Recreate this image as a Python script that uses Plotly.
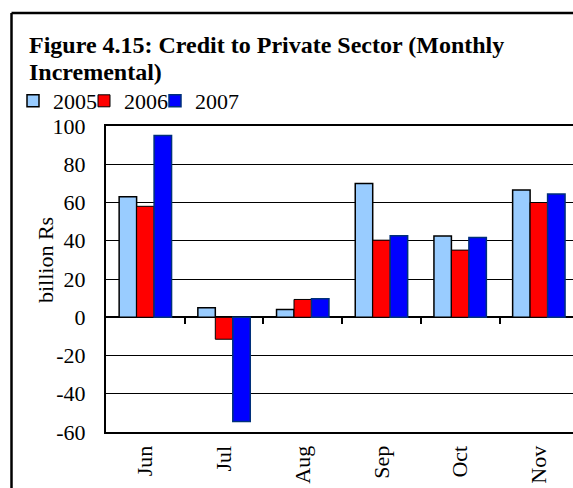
import plotly.graph_objects as go

months = ["Jun", "Jul", "Aug", "Sep", "Oct", "Nov"]
years = ["2005", "2006", "2007"]
v2005 = [63, 5, 4, 70, 42.5, 66.5]
v2006 = [58, -11.5, 9.3, 40.3, 35.1, 60]
v2007 = [95, -54.5, 9.7, 42.6, 41.7, 64.5]
y_ticks = [-60, -40, -20, 0, 20, 40, 60, 80, 100]
y_labels = [str(v) for v in y_ticks]
title_lines = ["Figure 4.15: Credit to Private Sector (Monthly", "Incremental)"]

fills = ["#99CCFF", "#FF0000", "#0000FF"]
edges = ["#000000", "#000000", "#00307A"]
edge_w = [1.5, 1.0, 1.5]
leg_w = [26, 26, 60]

W, H = 573, 488
FONT = "Liberation Serif"

fig = go.Figure()
for name, vals, fc, ec, ew, lw in zip(years, [v2005, v2006, v2007], fills, edges, edge_w, leg_w):
    fig.add_trace(go.Bar(x=months, y=vals, name=name, legendwidth=lw,
                         marker=dict(color=fc, line=dict(color=ec, width=ew))))

n = len(months)
band_px = 78.7
left_px, right_px = 106, W
top_px, bot_px = 126, 432
xr = [-0.5, -0.5 + (right_px - left_px) / band_px]
ymin, ymax = y_ticks[0], y_ticks[-1]
zero_paper = 1 - (top_px + (bot_px - top_px) * (ymax - 0) / (ymax - ymin)) / H

annos = []
for i, line in enumerate(title_lines):
    annos.append(dict(text=line, xref="paper", yref="paper", x=27 / W, y=1 - (45 + 27 * i) / H,
                      xanchor="left", yanchor="middle", align="left", showarrow=False,
                      font=dict(family=FONT, size=24, color="black", weight="bold")))
annos.append(dict(text="billion Rs", xref="paper", yref="paper", x=45 / W, y=1 - 260 / H,
                  xanchor="center", yanchor="middle", textangle=-90, showarrow=False,
                  font=dict(family=FONT, size=22, color="black")))

fig.update_layout(
    width=W, height=H,
    margin=dict(l=0, r=0, t=0, b=0, autoexpand=False),
    paper_bgcolor="white", plot_bgcolor="white",
    barmode="group", bargap=0.334, bargroupgap=0,
    font=dict(family=FONT, size=22, color="black"),
    showlegend=True,
    legend=dict(orientation="h", x=13 / W, xanchor="left", y=1 - 101 / H, yanchor="middle",
                bgcolor="rgba(0,0,0,0)", font=dict(family=FONT, size=22),
                itemwidth=30, traceorder="normal"),
    xaxis=dict(domain=[left_px / W, 1], range=xr, type="category", automargin=False,
               showline=True, mirror=True, linecolor="black", linewidth=2,
               showgrid=False, ticks="", tickangle=-90, ticklabelstandoff=3,
               tickfont=dict(family=FONT, size=22)),
    xaxis2=dict(overlaying="x", anchor="free", position=zero_paper, range=xr,
                domain=[left_px / W, 1], type="linear", automargin=False,
                tickvals=[i + 0.5 for i in range(n - 1)], ticks="outside", ticklen=6,
                tickwidth=2, tickcolor="black", showticklabels=False,
                showline=False, showgrid=False, zeroline=False),
    yaxis=dict(domain=[1 - bot_px / H, 1 - top_px / H], range=[ymin, ymax], automargin=False,
               tickvals=y_ticks, ticktext=y_labels, showline=True, linecolor="black", linewidth=2,
               showgrid=True, gridcolor="black", gridwidth=1.3,
               zeroline=True, zerolinecolor="black", zerolinewidth=1.5,
               ticks="", ticklabelstandoff=14, tickfont=dict(family=FONT, size=22)),
    annotations=annos,
    shapes=[
        dict(type="line", xref="paper", yref="paper", x0=11.5 / W, x1=1.01, y0=1 - 13 / H, y1=1 - 13 / H,
             line=dict(color="black", width=2.5)),
        dict(type="line", xref="paper", yref="paper", x0=11.5 / W, x1=11.5 / W, y0=-0.01, y1=1 - 13 / H,
             line=dict(color="black", width=2.5)),
    ],
)
fig.add_trace(go.Scatter(x=[], y=[], xaxis="x2", showlegend=False))

fig.write_html("out.html")
